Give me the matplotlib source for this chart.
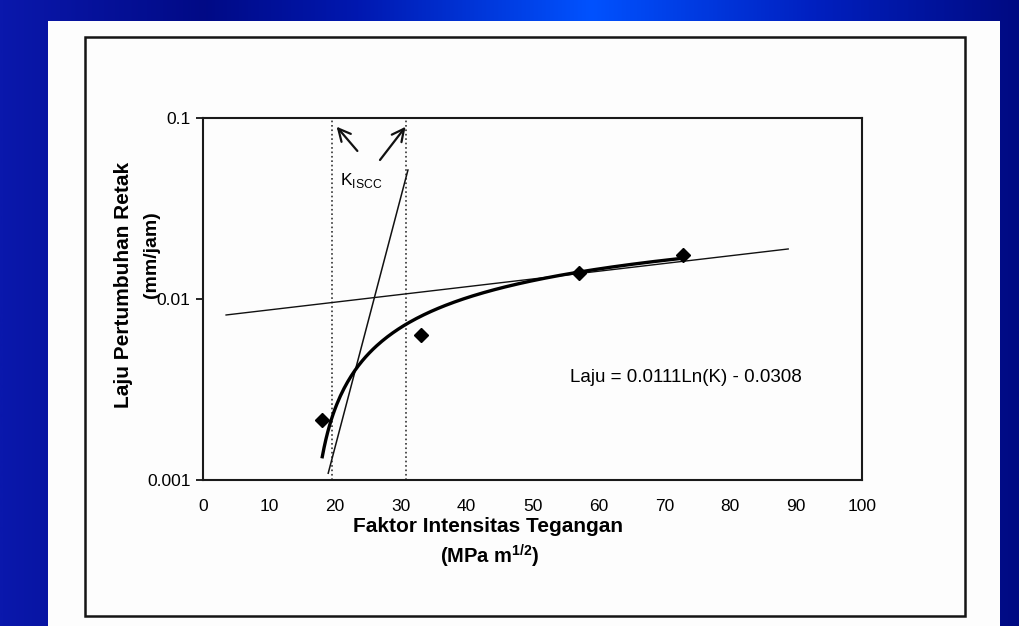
import matplotlib.pyplot as plt
import numpy as np
from matplotlib.patches import Rectangle
from matplotlib.colors import LinearSegmentedColormap

plt.rcParams['font.family'] = ['Liberation Sans', 'DejaVu Sans']

# measured points (K, crack growth rate)
k_points = [18.1, 33.1, 57.0, 72.8]
laju_points = [0.00215, 0.0063, 0.0140, 0.0175]

# log trendline printed on the chart: Laju = 0.0111 Ln(K) - 0.0308
trend_slope = 0.0111
trend_intercept = -0.0308
trend_k_start, trend_k_end = 18.1, 72.8

# the two straight lines (end points)
steep_k = [19.0, 31.1]
steep_laju = [0.00109, 0.0516]
flat_k = [3.5, 88.8]
flat_laju = [0.00816, 0.0189]

# K_ISCC markers
kiscc = [19.6, 30.8]

x_ticks = [0, 10, 20, 30, 40, 50, 60, 70, 80, 90, 100]
y_ticks = [0.001, 0.01, 0.1]
y_tick_labels = ['0.001', '0.01', '0.1']

W, H = 1020, 626
fig = plt.figure(figsize=(W / 100, H / 100), dpi=100)

# slide background: horizontal blue gradient
bg = fig.add_axes([0, 0, 1, 1], zorder=0)
cmap = LinearSegmentedColormap.from_list('slide', [
    (0.0, '#0a18ac'), (0.2, '#010a86'), (0.35, '#0018b0'),
    (0.58, '#0052ff'), (0.8, '#0020c0'), (1.0, '#000a82')])
bg.imshow(np.linspace(0, 1, 512)[None, :], aspect='auto', cmap=cmap,
          extent=[0, 1, 0, 1])
bg.set_xlim(0, 1)
bg.set_ylim(0, 1)
bg.axis('off')

# scanned page and its frame (pixel coords -> figure fraction)
bg.add_patch(Rectangle((48 / W, 0), (1000 - 48) / W, (626 - 21) / H,
                       facecolor='#fdfdfd', edgecolor='none'))
bg.add_patch(Rectangle((85 / W, 1 - 616 / H), 880 / W, (616 - 37) / H,
                       facecolor='none', edgecolor='#151515', lw=1.8))

ax = fig.add_axes([203 / W, 1 - 480 / H, 659 / W, 362 / H], zorder=2)
ax.set_facecolor('none')
ax.set_yscale('log')
ax.set_xlim(0, 100)
ax.set_ylim(0.001, 0.1)
ax.set_xticks(x_ticks)
ax.set_yticks(y_ticks)
ax.set_yticklabels(y_tick_labels)
ax.yaxis.set_minor_locator(plt.NullLocator())
ax.tick_params(axis='y', length=5, width=1.2, pad=4, labelsize=12.5)
ax.tick_params(axis='x', length=0, pad=14, labelsize=12.5)
for s in ax.spines.values():
    s.set_linewidth(1.5)
    s.set_color('#1a1a1a')

ax.vlines(kiscc, 0.001, 0.1, colors='#333333', linestyles=':', lw=1.2)

ax.plot(flat_k, flat_laju, color='#111111', lw=1.0)
ax.plot(steep_k, steep_laju, color='#111111', lw=1.1)

k_fit = np.linspace(trend_k_start, trend_k_end, 200)
ax.plot(k_fit, trend_slope * np.log(k_fit) + trend_intercept,
        color='black', lw=2.4)

ax.plot(k_points, laju_points, 'D', color='black', ms=7.5, zorder=5)

arrow = dict(arrowstyle='->', lw=1.6, color='#111111', mutation_scale=22)
ax.annotate('', xy=(20.0, 0.092), xytext=(23.7, 0.064), arrowprops=arrow)
ax.annotate('', xy=(31.0, 0.092), xytext=(26.6, 0.057), arrowprops=arrow)
ax.text(24.0, 0.045, r'K$_{\mathregular{ISCC}}$', fontsize=12.5,
        ha='center', va='center')

ax.text(55.7, 0.0037, 'Laju = 0.0111Ln(K) - 0.0308', fontsize=13.5,
        ha='left', va='center')

fig.text(124 / W, 1 - 285 / H, 'Laju Pertumbuhan Retak', rotation=90,
         fontsize=15, fontweight='bold', ha='center', va='center')
fig.text(152 / W, 1 - 255 / H, '(mm/jam)', rotation=90,
         fontsize=14, fontweight='bold', ha='center', va='center')
fig.text(488 / W, 1 - 526 / H, 'Faktor Intensitas Tegangan',
         fontsize=15, fontweight='bold', ha='center', va='center')
fig.text(490 / W, 1 - 556 / H, r'(MPa m$^{\mathregular{1/2}}$)',
         fontsize=14.5, fontweight='bold', ha='center', va='center')

fig.savefig('out.png', dpi=100)
